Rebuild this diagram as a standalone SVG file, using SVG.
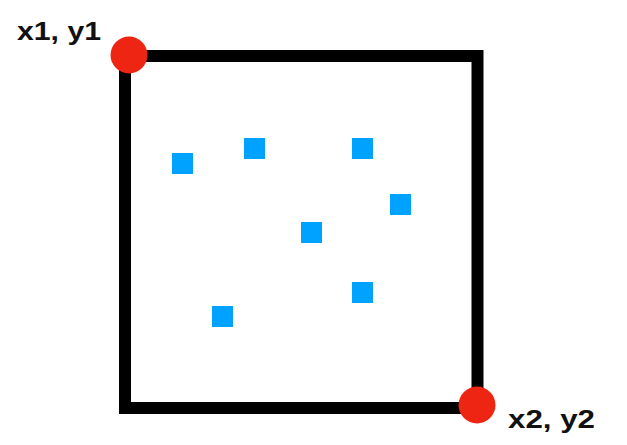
<svg xmlns="http://www.w3.org/2000/svg" width="627" height="445" viewBox="0 0 627 445">
<style>
.pt{fill:#ee2512}
.sq{fill:#00a2ff}
.lbl{font-family:"Liberation Sans",Arial,sans-serif;font-weight:bold;font-size:26px;fill:#111}
</style>
<rect width="627" height="445" fill="#fff"/>
<g id="box"><rect x="125" y="56" width="352.5" height="352" fill="none" stroke="#000" stroke-width="12"/></g>
<g id="points">
<rect class="sq" x="172" y="153" width="21" height="21"/>
<rect class="sq" x="244" y="138" width="21" height="21"/>
<rect class="sq" x="352" y="138" width="21" height="21"/>
<rect class="sq" x="390" y="194" width="21" height="21"/>
<rect class="sq" x="301" y="222" width="21" height="21"/>
<rect class="sq" x="352" y="282" width="21" height="21"/>
<rect class="sq" x="212" y="306" width="21" height="21"/>
</g>
<g id="p1"><circle class="pt" cx="129" cy="55" r="18.5"/><text class="lbl" x="17" y="40" textLength="84" lengthAdjust="spacingAndGlyphs">x1, y1</text></g>
<g id="p2"><circle class="pt" cx="477" cy="405" r="18.5"/><text class="lbl" x="508" y="428" textLength="87" lengthAdjust="spacingAndGlyphs">x2, y2</text></g>
</svg>
